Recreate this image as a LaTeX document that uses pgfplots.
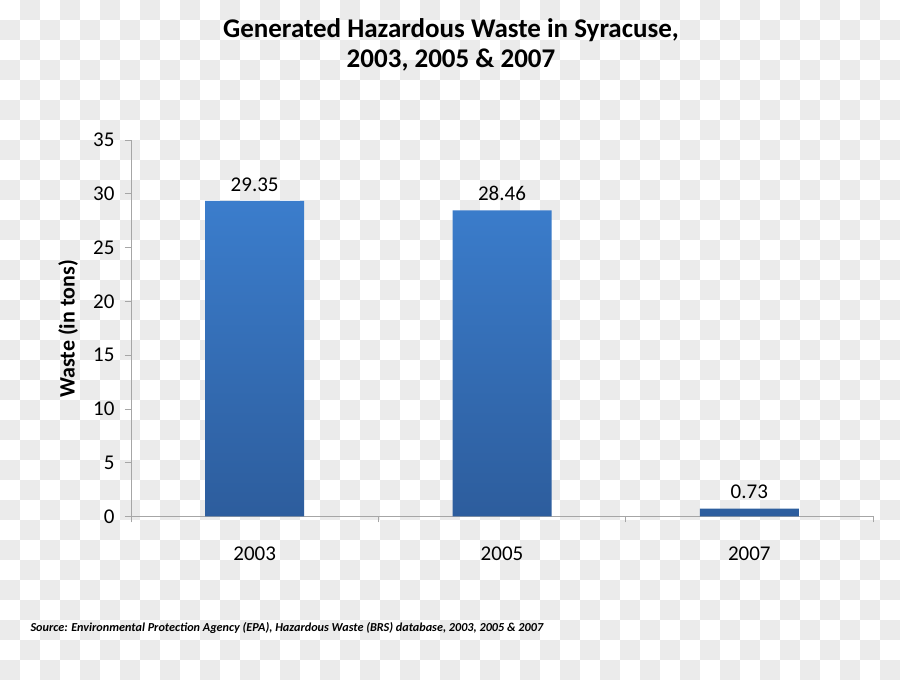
\documentclass[border=0pt]{standalone}
\usepackage{fontspec}
\setmainfont{Carlito}
\usepackage{pgfplots}
\pgfplotsset{compat=1.18}

\definecolor{barTop}{HTML}{3B7DCC}
\definecolor{barBot}{HTML}{2D5D9D}
\definecolor{chk}{HTML}{EBEBEB}
\definecolor{axgray}{HTML}{A6A6A6}

\begin{document}
\begin{tikzpicture}[x=1pt,y=1pt]
  \fill[white] (0,0) rectangle (900,680);
  % checkered backdrop (20px squares)
  \foreach \j in {0,2,...,32}{
    \foreach \i in {1,3,...,43}{
      \fill[chk] (20*\i,660-20*\j) rectangle ++(20,20);
    }
  }
  \foreach \j in {1,3,...,33}{
    \foreach \i in {0,2,...,44}{
      \fill[chk] (20*\i,660-20*\j) rectangle ++(20,20);
    }
  }

  % title
  \node[font=\fontsize{27}{32}\selectfont\bfseries, anchor=base]
    at (451,642) {Generated Hazardous Waste in Syracuse,};
  \node[font=\fontsize{27}{32}\selectfont\bfseries, anchor=base]
    at (451,612) {2003, 2005 \& 2007};

  \begin{axis}[
      at={(131pt,163.5pt)}, anchor=south west,
      scale only axis,
      width=742pt, height=376.5pt,
      xmin=-0.5, xmax=2.5,
      ymin=0, ymax=35,
      ytick={0,5,...,35},
      xtick={0,1,2},
      xticklabels={2003,2005,2007},
      minor xtick={-0.5,0.5,1.5,2.5},
      axis x line*=bottom,
      axis y line*=left,
      axis line style={axgray, line width=0.8pt},
      tick align=outside,
      major tick length=6pt,
      minor tick length=6pt,
      major x tick style={draw=none},
      minor x tick style={axgray, line width=0.8pt},
      ytick style={axgray, line width=0.8pt},
      tick label style={font=\fontsize{21}{24}\selectfont},
      /pgf/number format/assume math mode=true,
      yticklabel style={xshift=-7pt},
      xticklabel style={yshift=-21pt},
      clip=false,
    ]
    \addplot[ybar, bar width=99pt, draw=none,
      top color=barTop, bottom color=barBot,
      nodes near coords,
      nodes near coords style={font=\fontsize{21}{24}\selectfont, black, yshift=6pt},
      /pgf/number format/fixed,
      /pgf/number format/fixed zerofill,
      /pgf/number format/precision=2]
      coordinates {(0,29.35) (1,28.46) (2,0.73)};
  \end{axis}

  % y label
  \node[rotate=90, font=\fontsize{22}{26}\selectfont\bfseries]
    at (68,351) {Waste (in tons)};

  % source line
  \node[anchor=west, font=\fontsize{12.2}{15}\selectfont\bfseries\itshape]
    at (27,52) {Source: Environmental Protection Agency (EPA), Hazardous Waste (BRS) database, 2003, 2005 \& 2007};

  \useasboundingbox (0,0) rectangle (900,680);
\end{tikzpicture}
\end{document}
